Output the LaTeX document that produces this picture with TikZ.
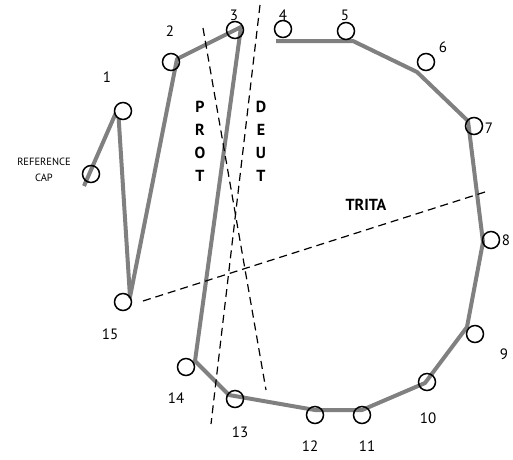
\documentclass[tikz,border=0pt]{standalone}
\usepackage{fontspec}
\setmainfont{PT Sans}
\begin{document}
\begin{tikzpicture}[x=1pt,y=-1pt,
  ring/.style={circle,draw=black,line width=1.5pt,minimum size=17pt,inner sep=0pt},
  num/.style={font=\fontsize{15}{15}\selectfont,inner sep=0pt},
  bigl/.style={font=\fontsize{16}{17}\selectfont\bfseries,inner sep=0pt,align=center},
  trace/.style={draw={rgb,255:red,128;green,128;blue,128},line width=4pt,line join=round},
  cut/.style={draw=black,line width=1.2pt,dash pattern=on 8pt off 5pt}]
\useasboundingbox (0,0) rectangle (513,459);
% gray trace corners
\coordinate (p0) at (84,186);
\coordinate (p1) at (118,108);
\coordinate (p2) at (130,297);
\coordinate (p3) at (177,59);
\coordinate (p4) at (241,27);
\coordinate (p5) at (195,361);
\coordinate (p6) at (229,395);
\coordinate (p7) at (315,410);
\coordinate (p8) at (362,410);
\coordinate (p9) at (425,383);
\coordinate (p10) at (467,327);
\coordinate (p11) at (483,242);
\coordinate (p12) at (468,121);
\coordinate (p13) at (417,72);
\coordinate (p14) at (353,41);
\coordinate (p15) at (276,41);
\draw[trace] (p0) -- (p1) -- (p2) -- (p3) -- (p4) -- (p5) -- (p6) -- (p7) -- (p8) -- (p9) -- (p10) -- (p11) -- (p12) -- (p13) -- (p14) -- (p15);
% circles
\node[ring] (cref) at (91,174) {};
\node[ring,fill=white] (c1) at (123,111) {};
\node[ring] (c2) at (171,62) {};
\node[ring] (c3) at (235,30) {};
\node[ring] (c4) at (283,29) {};
\node[ring] (c5) at (346,31) {};
\node[ring] (c6) at (426,62) {};
\node[ring] (c7) at (474,126) {};
\node[ring] (c8) at (491,240) {};
\node[ring] (c9) at (475,334) {};
\node[ring] (c10) at (427,382) {};
\node[ring] (c11) at (362,415) {};
\node[ring] (c12) at (315,415) {};
\node[ring] (c13) at (235,399) {};
\node[ring] (c14) at (186,367) {};
\node[ring] (c15) at (123,302) {};
% number labels
\node[num] (l1) at (107,77) {1};
\node[num] (l2) at (170,31) {2};
\node[num] (l3) at (234,15) {3};
\node[num] (l4) at (283,15) {4};
\node[num] (l5) at (345,15) {5};
\node[num] (l6) at (443,47) {6};
\node[num] (l7) at (489,128) {7};
\node[num] (l8) at (506,240) {8};
\node[num] (l9) at (504,354) {9};
\node[num] (l10) at (428,418) {10};
\node[num] (l11) at (367,446) {11};
\node[num] (l12) at (310,446) {12};
\node[num] (l13) at (240,432) {13};
\node[num] (l14) at (176,398) {14};
\node[num] (l15) at (110,334) {15};
\node[font=\fontsize{10.5}{16}\selectfont,align=center,inner sep=0pt] (lref) at (44,170) {REFERENCE\\CAP};
% dashed confusion lines
\coordinate (pa) at (203,28);
\coordinate (pb) at (266,390);
\coordinate (da) at (260,5);
\coordinate (db) at (211,424);
\coordinate (ta) at (143,301);
\coordinate (tb) at (485,192);
\draw[cut] (pa) -- (pb);
\draw[cut] (da) -- (db);
\draw[cut] (ta) -- (tb);
% axis labels
\node[bigl,font=\fontsize{16}{23}\selectfont\bfseries] (prot) at (200,141) {P\\R\\O\\T};
\node[bigl,font=\fontsize{16}{23}\selectfont\bfseries] (deut) at (261,141) {D\\E\\U\\T};
\node[bigl] (trita) at (366,205) {TRITA};
\end{tikzpicture}
\end{document}
